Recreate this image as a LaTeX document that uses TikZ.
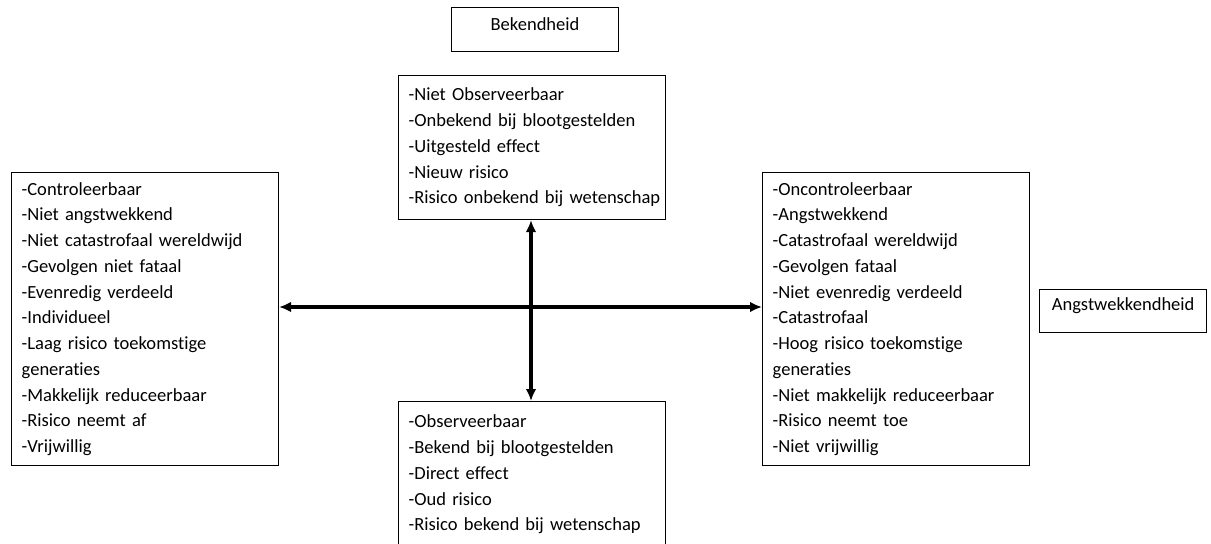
\documentclass[tikz,border=0pt]{standalone}
\usepackage{fontspec}
\setmainfont[Ligatures=NoCommon]{Carlito}
\usetikzlibrary{arrows.meta}
\usetikzlibrary{positioning}

\begin{document}
\begin{tikzpicture}
	[
	x=0.75pt, y=-0.75pt,
	font=\fontsize{13.9}{19.3}\selectfont,
	pijl/.style={{Latex[length=9pt,width=8pt]}-{Latex[length=9pt,width=8pt]}, line width=2.3pt}
	]
	
	% Two box styles: lists and headings
	\tikzstyle{lijst}=[draw, line width=0.8pt, anchor=north west, align=left, inner xsep=7.5pt, text width=185pt, minimum width=200.25pt]
	\tikzstyle{kop}=[draw, line width=0.8pt, inner xsep=0pt, inner ysep=0pt, minimum width=125.25pt]
	
	\useasboundingbox (0,0) rectangle (1211,543);
	
	% The four lists
	\node[lijst, minimum height=108pt] (boven) at (398,75)
	{-Niet Observeerbaar\\-Onbekend bij blootgestelden\\-Uitgesteld effect\\-Nieuw risico\\\mbox{-Risico onbekend bij wetenschap}};
	\node[lijst, minimum height=109.5pt] (onder) at (398,401)
	{-Observeerbaar\\-Bekend bij blootgestelden\\-Direct effect\\-Oud risico\\\mbox{-Risico bekend bij wetenschap}};
	\node[lijst, minimum height=219.75pt] (links) at (11,172)
	{-Controleerbaar\\-Niet angstwekkend\\\mbox{-Niet catastrofaal wereldwijd}\\-Gevolgen niet fataal\\-Evenredig verdeeld\\-Individueel\\-Laag risico toekomstige\\generaties\\-Makkelijk reduceerbaar\\-Risico neemt af\\-Vrijwillig};
	\node[lijst, minimum height=219.75pt] (rechts) at (762,172)
	{-Oncontroleerbaar\\-Angstwekkend\\-Catastrofaal wereldwijd\\-Gevolgen fataal\\-Niet evenredig verdeeld\\-Catastrofaal\\-Hoog risico toekomstige\\generaties\\\mbox{-Niet makkelijk reduceerbaar}\\-Risico neemt toe\\-Niet vrijwillig};
	
	% Headings
	\node[kop, text height=17.25pt, text depth=15.75pt, above=17.25pt of boven, xshift=2.25pt] (bekendheid) {Bekendheid};
	\node[kop, text height=15.75pt, text depth=16.5pt, right=6.75pt of rechts, yshift=6pt] (angst) {Angstwekkendheid};
	
	% The axes
	\coordinate (midden) at (531,307);
	\draw[pijl] (links.east |- midden) -- (rechts.west |- midden);
	\draw[pijl] (boven.south -| midden) -- (onder.north -| midden);
\end{tikzpicture}
\end{document}
